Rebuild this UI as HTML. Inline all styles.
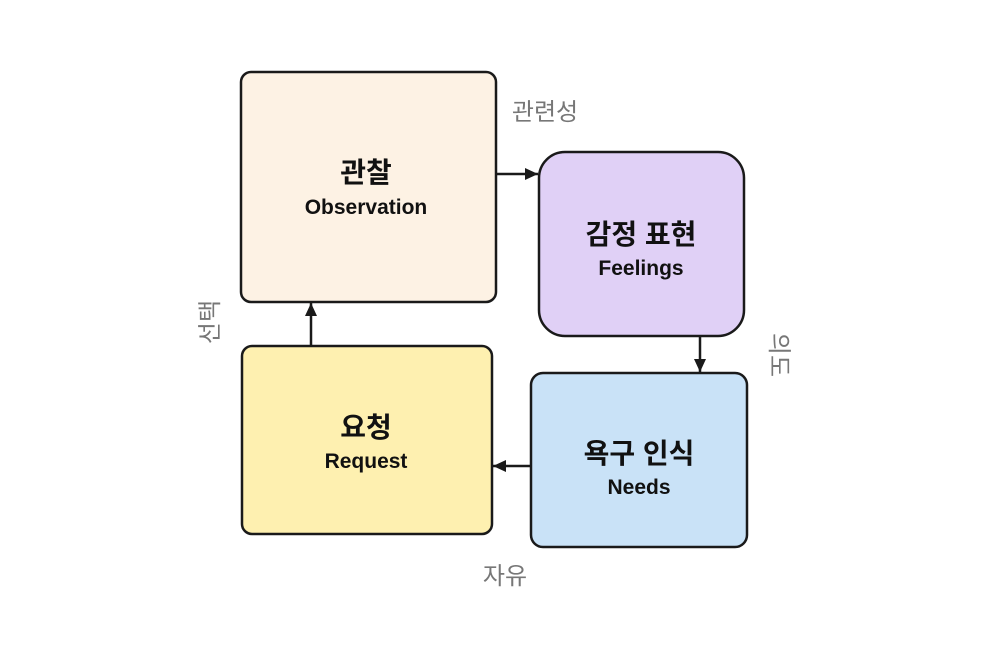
<!DOCTYPE html>
<html><head><meta charset="utf-8"><style>
html,body{margin:0;padding:0;background:#fff;}
svg{display:block;}
text{font-family:"Liberation Sans","Noto Sans CJK KR",sans-serif;}
</style></head><body>
<svg width="1000" height="670" viewBox="0 0 1000 670" xmlns="http://www.w3.org/2000/svg">
<defs>
<marker id="b" markerWidth="14" markerHeight="14" refX="13" refY="7" orient="auto" markerUnits="userSpaceOnUse">
<path d="M0,1 L13,7 L0,13 z" fill="#1a1a1a"/>
</marker>
</defs>
<rect width="1000" height="670" fill="#fff"/>
<line x1="497" y1="174" x2="538" y2="174" stroke="#1a1a1a" stroke-width="2.5" marker-end="url(#b)"/>
<line x1="700" y1="337" x2="700" y2="372" stroke="#1a1a1a" stroke-width="2.5" marker-end="url(#b)"/>
<line x1="530" y1="466" x2="493" y2="466" stroke="#1a1a1a" stroke-width="2.5" marker-end="url(#b)"/>
<line x1="311" y1="345" x2="311" y2="303" stroke="#1a1a1a" stroke-width="2.5" marker-end="url(#b)"/>
<rect x="241" y="72" width="255" height="230" rx="10" fill="#fdf2e4" stroke="#1a1a1a" stroke-width="2.5"/>
<rect x="539" y="152" width="205" height="184" rx="26" fill="#e0d0f6" stroke="#1a1a1a" stroke-width="2.5"/>
<rect x="531" y="373" width="216" height="174" rx="12" fill="#c9e2f7" stroke="#1a1a1a" stroke-width="2.5"/>
<rect x="242" y="346" width="250" height="188" rx="10" fill="#fef0b0" stroke="#1a1a1a" stroke-width="2.5"/>
<g fill="#111" text-anchor="middle" font-weight="bold">
<text x="366" y="182" font-size="28">관찰</text>
<text x="366" y="214" font-size="21">Observation</text>
<text x="641" y="244" font-size="28">감정 표현</text>
<text x="641" y="275" font-size="21">Feelings</text>
<text x="639" y="463" font-size="28">욕구 인식</text>
<text x="639" y="494" font-size="21">Needs</text>
<text x="366" y="437" font-size="28">요청</text>
<text x="366" y="468" font-size="21">Request</text>
</g>
<g fill="#777" font-size="24" text-anchor="middle">
<text x="545" y="120">관련성</text>
<text x="505" y="584">자유</text>
<text x="0" y="0" transform="translate(218,322) rotate(-90)">선택</text>
<text x="0" y="0" transform="translate(771,355) rotate(90)">의도</text>
</g>
</svg>
</body></html>
